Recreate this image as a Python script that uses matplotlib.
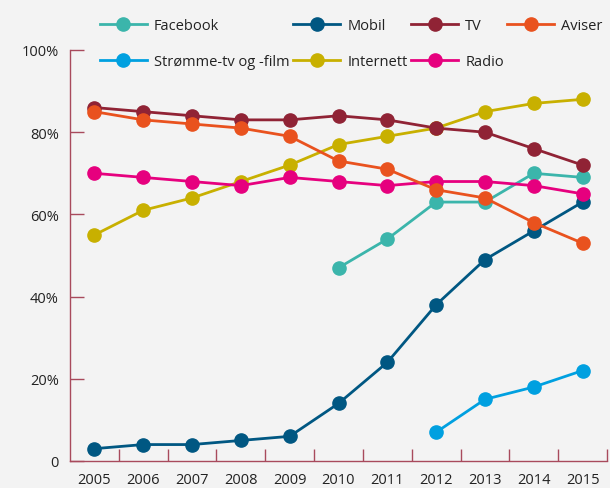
import matplotlib.pyplot as plt
from matplotlib.lines import Line2D

plt.rcParams['font.family'] = ['Open Sans', 'DejaVu Sans']

years = ['2005', '2006', '2007', '2008', '2009', '2010', '2011', '2012', '2013', '2014', '2015']

facebook = [None, None, None, None, None, 47, 54, 63, 63, 70, 69]
stromme = [None, None, None, None, None, None, None, 7, 15, 18, 22]
mobil = [3, 4, 4, 5, 6, 14, 24, 38, 49, 56, 63]
internett = [55, 61, 64, 68, 72, 77, 79, 81, 85, 87, 88]
tv = [86, 85, 84, 83, 83, 84, 83, 81, 80, 76, 72]
radio = [70, 69, 68, 67, 69, 68, 67, 68, 68, 67, 65]
aviser = [85, 83, 82, 81, 79, 73, 71, 66, 64, 58, 53]

series = [
    ('Facebook', facebook, '#3bb5ab'),
    ('Strømme-tv og -film', stromme, '#00a0e0'),
    ('Mobil', mobil, '#005782'),
    ('Internett', internett, '#c8b000'),
    ('TV', tv, '#902335'),
    ('Radio', radio, '#e6007e'),
    ('Aviser', aviser, '#e9521e'),
]

bg = '#f3f3f3'
spine_col = '#a84a5c'

fig = plt.figure(figsize=(6.1, 4.89), dpi=100, facecolor=bg)
ax = fig.add_axes([70 / 610, 1 - 462 / 489, 537 / 610, 411 / 489], facecolor=bg)

handles = {}
for name, vals, col in series:
    xs = [i for i, v in enumerate(vals) if v is not None]
    ys = [v for v in vals if v is not None]
    ax.plot(xs, ys, color=col, lw=2, marker='o', ms=9.5, clip_on=False)
    handles[name] = Line2D([], [], color=col, lw=2, marker='o', ms=9.5)

ax.set_xlim(-0.5, 10.5)
ax.set_ylim(0, 100)

ax.set_xticks(range(len(years)))
ax.set_xticklabels(years)
ax.set_xticks([i + 0.5 for i in range(len(years))], minor=True)
ax.tick_params(axis='x', which='major', length=0, pad=8, labelsize=10.5, labelcolor='#222222')
ax.tick_params(axis='x', which='minor', direction='in', length=9, color=spine_col, width=1)

ax.set_yticks([0, 20, 40, 60, 80, 100])
ax.set_yticklabels(['0', '20%', '40%', '60%', '80%', '100%'])
ax.tick_params(axis='y', direction='in', length=10, color=spine_col, width=1,
               pad=8, labelsize=10.5, labelcolor='#222222')

for s in ['top', 'right']:
    ax.spines[s].set_visible(False)
for s in ['left', 'bottom']:
    ax.spines[s].set_color(spine_col)
    ax.spines[s].set_linewidth(1)

order = ['Facebook', 'Strømme-tv og -film', 'Mobil', 'Internett', 'TV', 'Radio', 'Aviser']
fig.legend([handles[n] for n in order], order, ncol=4, frameon=False,
           loc='upper left', bbox_to_anchor=(87 / 610, 1 - 6 / 489),
           fontsize=10.5, handlelength=3.2, handletextpad=0.5,
           columnspacing=0.25, labelspacing=1.45, labelcolor='#222222')

fig.savefig('out.png', dpi=100, facecolor=bg)
